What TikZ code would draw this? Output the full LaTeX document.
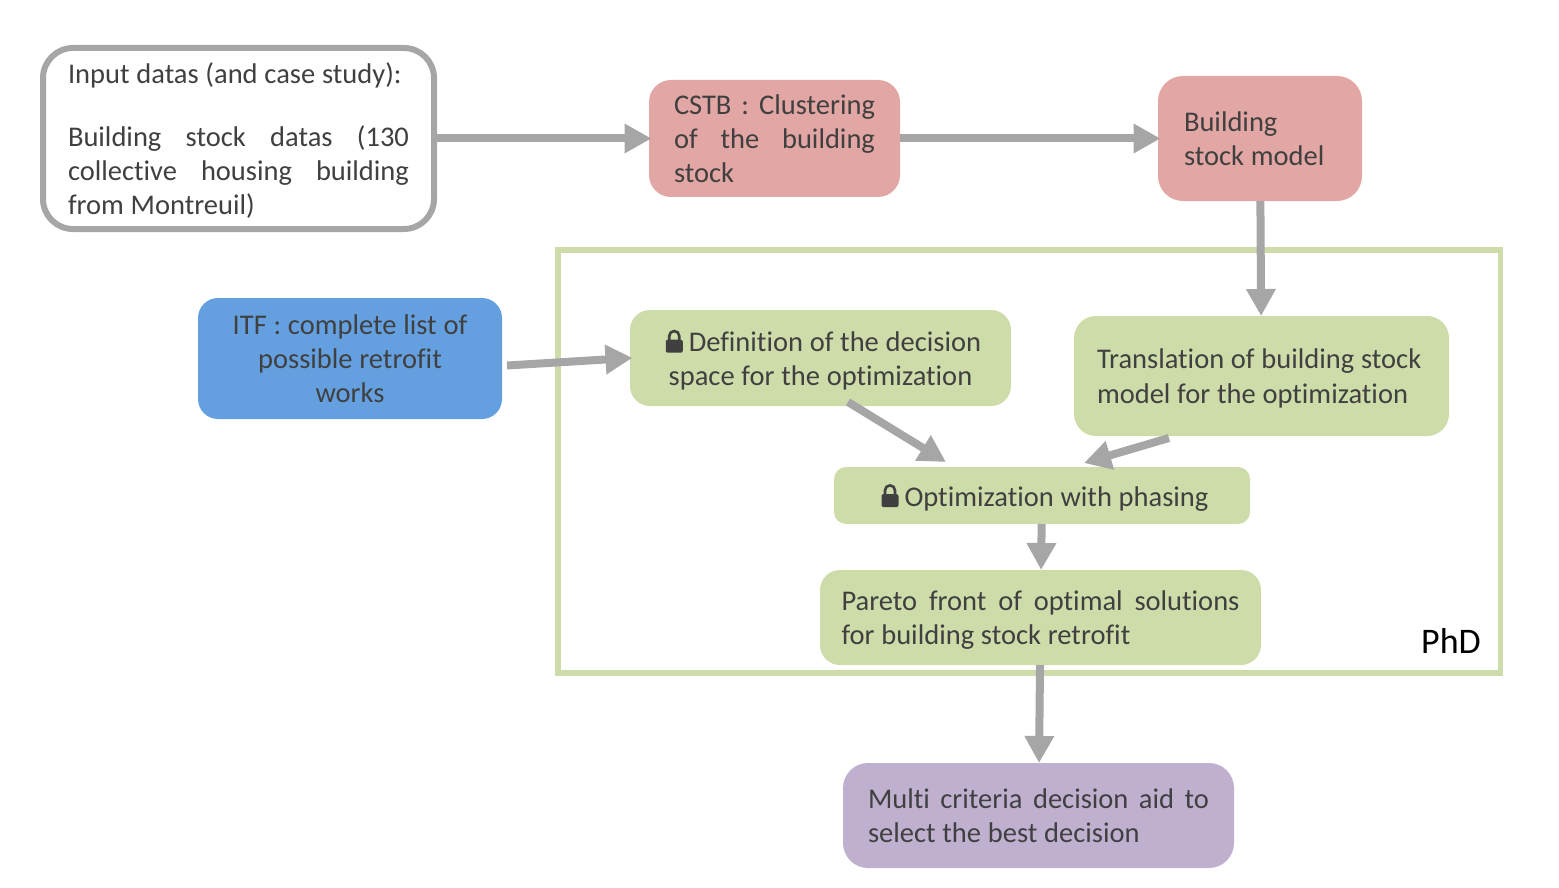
\documentclass[tikz,border=0pt]{standalone}
\usepackage{fontspec}
\setmainfont[Ligatures=CommonOff, WordSpace=1.05]{Carlito}
\usetikzlibrary{arrows.meta}
\definecolor{inkgrey}{HTML}{404040}
\definecolor{linegrey}{HTML}{A6A6A6}
\definecolor{rosebox}{HTML}{E2A6A4}
\definecolor{bluebox}{HTML}{64A0DF}
\definecolor{greenbox}{HTML}{CEDCAA}
\definecolor{mauvebox}{HTML}{BFB0D0}
\tikzset{
  stepbox/.style={rectangle, outer sep=0pt, inner sep=0pt, text=inkgrey,
    font=\fontsize{28.5}{34}\selectfont},
  flow/.style={draw=linegrey, line width=8pt, -{Triangle[length=27pt, width=28pt]}},
  tipover/.style={shorten >=-2.5pt}
}
\newcommand{\lockicon}{%
  \hspace*{6pt}\begin{tikzpicture}[x=1pt, y=1pt, baseline=1pt, sharp corners]
    \draw[inkgrey, line width=2.6pt] (3.5, 10) -- (3.5, 16.7) arc (180:0:5) -- (13.5, 10);
    \fill[inkgrey, rounded corners=2pt] (0, 0) rectangle (17, 13);
  \end{tikzpicture}\hspace{6pt}}

\begin{document}
\begin{tikzpicture}[x=1pt, y=-1pt]

  \useasboundingbox (0, 0) rectangle (1559, 888);

  % the frame goes first, boxes sit on it
  \node[rectangle, draw=greenbox, line width=5.5pt, minimum width=942.5pt, minimum height=423pt]
    (phdframe) at (1029, 461.5) {};
  \node[font=\fontsize{36}{40}\selectfont, text=black, inner sep=0pt] (phdlabel) at (1451, 641) {PhD};

  \node[stepbox, draw=linegrey, line width=6pt, fill=white, rounded corners=30pt,
    minimum width=391pt, minimum height=181pt, text width=341pt, text height=25pt, align=justify]
    (input) at (238.5, 138.5)
    {Input datas (and case study):\par\vspace{29pt}
     Building stock datas (130\linebreak collective housing building\linebreak from Montreuil)};

  \node[stepbox, fill=rosebox, rounded corners=22pt, minimum width=251pt, minimum height=117pt,
    text width=201pt, align=justify] (clustering) at (774.5, 138.5)
    {CSTB : Clustering\linebreak of the building\linebreak stock};

  \node[stepbox, fill=rosebox, rounded corners=25pt, minimum width=204pt, minimum height=125pt,
    text width=152pt, align=flush left] (model) at (1260, 138.5)
    {Building\\stock model};

  \node[stepbox, fill=bluebox, rounded corners=20pt, minimum width=304pt, minimum height=121pt,
    text width=280pt, align=flush center] (itf) at (350, 358.5)
    {ITF : complete list of\\possible retrofit\\works};

  \node[stepbox, fill=greenbox, rounded corners=20pt, minimum width=381pt, minimum height=96pt,
    text width=360pt, text height=26pt, align=flush center] (definition) at (820.5, 358)
    {\lockicon Definition of the decision\\space for the optimization};

  \node[stepbox, fill=greenbox, rounded corners=22pt, minimum width=375pt, minimum height=120pt,
    text width=329pt, text height=25pt, align=flush left] (translation) at (1261.5, 376)
    {Translation of building stock\\[1pt]model for the optimization};

  \node[stepbox, fill=greenbox, rounded corners=12pt, minimum width=416pt, minimum height=57pt,
    text width=400pt, text height=26pt, align=flush center] (optim) at (1042, 495.5)
    {\lockicon Optimization with phasing};

  \node[stepbox, fill=greenbox, rounded corners=20pt, minimum width=441pt, minimum height=95pt,
    text width=398pt, text height=24pt, align=justify] (pareto) at (1040.5, 617.5)
    {Pareto front of optimal solutions\linebreak for building stock retrofit};

  \node[stepbox, fill=mauvebox, rounded corners=25pt, minimum width=391pt, minimum height=105pt,
    text width=341pt, align=justify] (multi) at (1038.5, 815.5)
    {Multi criteria decision aid to\linebreak select the best decision};

  \draw[flow, tipover] (input) -- (clustering);
  \draw[flow, tipover] (clustering) -- (model);
  \draw[flow] (model) -- (translation);
  \draw[flow, tipover] ([xshift=5pt, yshift=-7pt]itf.east) -- (definition.west);
  \draw[flow] ([xshift=27.5pt, yshift=4pt]definition.south) -- ([xshift=-96pt, yshift=5pt]optim.north);
  \draw[flow] ([xshift=-92.5pt, yshift=-2pt]translation.south) -- ([xshift=42pt, yshift=4pt]optim.north);
  \draw[flow] (optim) -- (pareto);
  \draw[flow] (pareto) -- (multi);

\end{tikzpicture}
\end{document}
